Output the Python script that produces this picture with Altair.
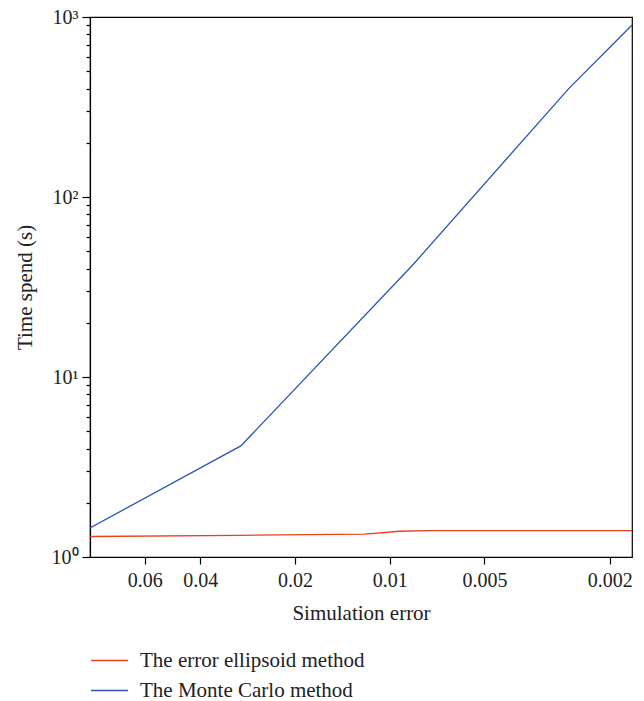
import altair as alt
import pandas as pd

# Simulation error (x) and time spent (s)
mc_err = [0.0895, 0.0297, 0.00845, 0.0027, 0.0017]
mc_time = [1.45, 4.14, 41.9, 400, 903]
ee_err = [0.0895, 0.03, 0.012, 0.0093, 0.0075, 0.0017]
ee_time = [1.30, 1.32, 1.34, 1.39, 1.40, 1.40]

series_names = ["The error ellipsoid method", "The Monte Carlo method"]
series_colors = ["#e8401c", "#2a56b8"]

x_ticks = [0.06, 0.04, 0.02, 0.01, 0.005, 0.002]
y_ticks = [m * 10 ** e for e in range(0, 3) for m in range(1, 10)] + [1000]

rows = []
for x, y in zip(ee_err, ee_time):
    rows.append({"err": x, "time": y, "method": series_names[0], "o": len(rows)})
for x, y in zip(mc_err, mc_time):
    rows.append({"err": x, "time": y, "method": series_names[1], "o": len(rows)})
df = pd.DataFrame(rows)

FONT = "Liberation Serif"

is_major = "abs(log(datum.value)/LN10 - round(log(datum.value)/LN10)) < 0.000001"

chart = alt.Chart(df).mark_line(strokeWidth=1.3, clip=True).encode(
    x=alt.X("err:Q",
            scale=alt.Scale(type="log", domain=[0.0017, 0.0895], reverse=True, nice=False),
            axis=alt.Axis(title="Simulation error", values=x_ticks, format="~g",
                          grid=False, tickSize=7, labelPadding=6, titlePadding=12,
                          labelFontSize=20)),
    y=alt.Y("time:Q",
            scale=alt.Scale(type="log", domain=[1, 1000], nice=False),
            axis=alt.Axis(title="Time spend (s)", values=y_ticks, grid=False,
                          labelExpr="indexof([1,10,100,1000], datum.value) >= 0 ? '10' + ['⁰','¹','²','³'][indexof([1,10,100,1000], datum.value)] : ''",
                          tickSize={"condition": {"test": is_major, "value": 8}, "value": 4},
                          labelPadding=4, titlePadding=16, labelFontSize=20)),
    color=alt.Color("method:N",
                    scale=alt.Scale(domain=series_names, range=series_colors),
                    legend=alt.Legend(title=None, orient="none", legendX=0, legendY=624,
                                      direction="vertical", symbolType="stroke",
                                      symbolSize=1369, symbolStrokeWidth=1.5,
                                      labelFontSize=21, labelFont=FONT, labelOffset=11,
                                      labelLimit=400, rowPadding=-4, labelColor="#222")),
    order="o:Q",
).properties(
    width=542, height=540,
    autosize=alt.AutoSizeParams(type="none"),
    padding={"left": 90, "top": 17, "right": 12, "bottom": 144},
).configure_view(
    stroke="black", strokeWidth=1.2
).configure_axis(
    domainColor="black", tickColor="black", domainWidth=1.2, tickWidth=1.2,
    labelFont=FONT, titleFont=FONT, titleFontSize=21,
    titleFontWeight="normal", labelColor="#222", titleColor="#222",
)

chart.save("out.html", embed_options={"renderer": "svg", "actions": False})
